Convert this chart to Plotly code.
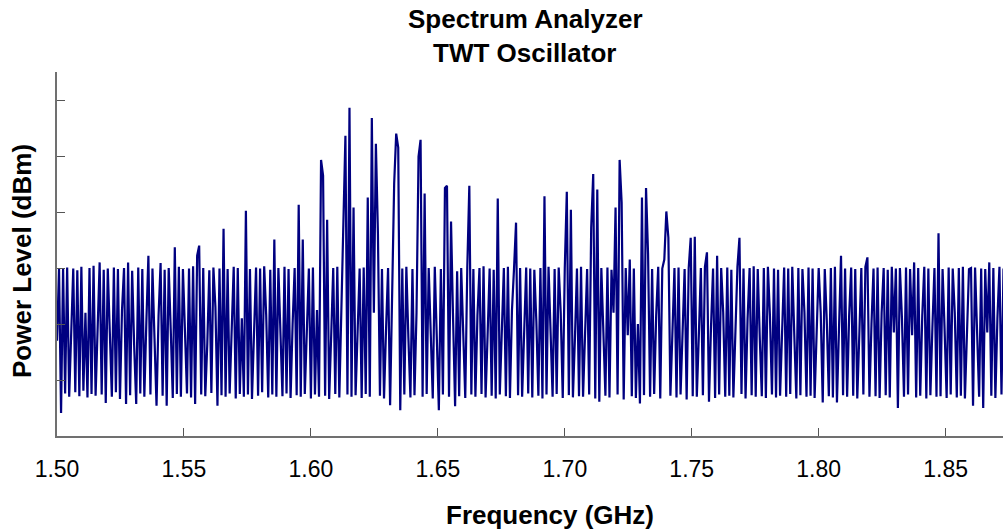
import plotly.graph_objects as go

# Sweep grid of the analyzer (GHz): start and step
f_start_ghz = 1.500
f_step_ghz = 0.0008

# Power level readings (dBm), one per sweep point
power_dbm = [
    -63.0, -50.2, -75.9, -50.0, -72.4, -49.9, -73.0, -60.5, -50.1, -72.2,
    -50.4, -72.9, -49.8, -71.9, -58.0, -73.1, -50.0, -72.5, -49.6, -72.8,
    -62.0, -49.0, -72.6, -50.3, -74.1, -50.1, -61.5, -73.0, -49.9, -72.2,
    -50.2, -73.4, -57.5, -50.0, -74.3, -49.0, -72.7, -50.5, -64.0, -74.3,
    -49.9, -72.4, -50.2, -73.0, -59.5, -47.8, -72.6, -50.1, -62.5, -74.6,
    -58.5, -49.1, -72.8, -50.3, -74.6, -50.0, -61.0, -73.2, -46.3, -72.5,
    -49.8, -73.0, -50.2, -60.0, -72.4, -50.1, -73.1, -49.7, -74.3, -47.8,
    -46.0, -72.6, -50.0, -72.9, -63.5, -50.4, -72.3, -49.9, -57.0, -74.6,
    -50.1, -72.7, -43.0, -73.0, -50.2, -72.4, -61.0, -49.8, -73.3, -50.0,
    -72.5, -59.0, -73.0, -39.8, -72.6, -50.2, -73.4, -62.0, -49.9, -72.8,
    -50.1, -72.2, -49.7, -58.5, -73.1, -50.3, -72.6, -44.9, -73.0, -50.0,
    -63.0, -72.9, -49.8, -72.4, -50.2, -73.2, -60.0, -50.0, -72.7, -38.7,
    -73.0, -44.9, -72.5, -61.5, -50.1, -73.3, -49.9, -72.6, -57.5, -73.0,
    -30.7, -33.5, -72.8, -41.4, -73.4, -62.0, -50.0, -72.5, -49.8, -73.1,
    -59.0, -44.6, -26.4, -72.6, -21.4, -73.0, -39.2, -72.7, -61.0, -50.1,
    -73.2, -49.9, -72.5, -37.4, -73.0, -23.2, -58.0, -27.8, -43.8, -72.8,
    -50.2, -73.3, -61.0, -50.0, -74.5, -57.0, -34.9, -26.0, -28.5, -75.4,
    -50.1, -72.6, -49.8, -62.5, -73.1, -50.2, -72.7, -58.0, -30.1, -27.1,
    -73.0, -36.7, -72.5, -50.0, -60.5, -73.3, -49.8, -62.0, -75.4, -50.2,
    -72.6, -35.7, -35.3, -73.0, -41.7, -59.0, -74.7, -50.6, -72.9, -50.0,
    -61.5, -73.2, -49.9, -35.3, -72.6, -50.2, -73.0, -58.5, -50.0, -72.5,
    -49.7, -73.1, -62.0, -50.1, -72.8, -50.3, -73.3, -37.6, -72.6, -60.0,
    -50.0, -72.9, -49.8, -73.2, -57.5, -50.2, -41.9, -72.7, -50.0, -73.0,
    -63.0, -49.9, -72.4, -50.1, -73.1, -50.3, -59.5, -72.8, -50.0, -73.3,
    -37.2, -72.6, -49.8, -61.0, -73.0, -50.2, -72.5, -49.9, -58.0, -73.2,
    -50.0, -36.4, -72.7, -39.6, -73.1, -62.5, -50.1, -72.9, -49.8, -73.0,
    -59.5, -50.2, -72.6, -42.8, -33.2, -73.3, -36.0, -73.9, -50.0, -61.0,
    -72.8, -49.9, -73.1, -50.3, -58.0, -39.2, -72.6, -30.7, -38.3, -73.5,
    -50.0, -62.0, -48.5, -72.9, -50.1, -73.2, -60.0, -74.2, -37.4, -72.7,
    -35.7, -47.4, -73.0, -50.2, -72.5, -58.5, -49.8, -73.3, -50.1, -48.5,
    -39.9, -44.6, -72.8, -61.5, -50.0, -73.1, -49.9, -72.6, -59.0, -50.2,
    -73.5, -50.1, -44.6, -72.9, -44.4, -73.0, -62.0, -50.0, -72.7, -49.8,
    -47.2, -73.9, -60.5, -50.1, -73.2, -47.8, -72.6, -50.0, -58.0, -73.0,
    -49.9, -72.8, -50.3, -73.1, -61.5, -49.8, -44.6, -72.5, -50.1, -73.3,
    -59.0, -50.0, -72.7, -49.7, -73.0, -50.2, -62.5, -72.9, -50.0, -73.2,
    -49.8, -58.5, -72.6, -50.1, -73.1, -50.3, -72.8, -60.5, -49.9, -73.0,
    -50.1, -72.5, -49.8, -62.0, -73.3, -50.0, -72.7, -50.2, -58.0, -73.0,
    -49.9, -72.8, -50.1, -73.2, -61.0, -50.0, -58.0, -74.0, -50.2, -59.5,
    -72.9, -50.0, -73.1, -49.8, -74.0, -61.5, -47.8, -72.7, -50.1, -73.0,
    -58.5, -49.9, -72.8, -50.2, -73.3, -62.0, -50.0, -72.6, -49.8, -48.1,
    -73.0, -60.0, -50.1, -72.9, -49.9, -73.2, -58.0, -50.0, -72.7, -50.3,
    -73.1, -49.8, -61.5, -50.1, -75.0, -50.0, -59.0, -73.0, -49.9, -72.6,
    -50.2, -62.0, -49.0, -73.1, -50.0, -72.8, -58.5, -49.8, -73.3, -50.1,
    -72.7, -60.5, -50.0, -73.0, -43.8, -72.9, -50.2, -61.0, -73.2, -49.9,
    -72.6, -50.1, -58.0, -73.1, -50.0, -72.8, -49.8, -73.3, -62.0, -50.2,
    -50.0, -74.6, -49.9, -60.0, -73.0, -50.1, -75.0, -50.2, -61.5, -49.0,
    -72.8, -50.0, -73.2, -59.0, -49.8, -72.6, -50.1, -73.0, -50.0,
]

freq_ghz = [round(f_start_ghz + i * f_step_ghz, 5) for i in range(len(power_dbm))]

x_tick_vals = [1.50, 1.55, 1.60, 1.65, 1.70, 1.75, 1.80, 1.85]
x_tick_text = ["1.50", "1.55", "1.60", "1.65", "1.70", "1.75", "1.80", "1.85"]
y_tick_vals = [-70, -60, -50, -40, -30, -20]

title_line1 = "Spectrum Analyzer"
title_line2 = "TWT Oscillator"
x_title = "Frequency (GHz)"
y_title = "Power Level (dBm)"

FONT = "Liberation Sans, Arial, sans-serif"

# plot area in pixels: left 57, top 72, right 1003, bottom 436
PL, PT, PW, PH = 57, 72, 946, 364


def px_x(x):
    return (x - PL) / PW


def px_y(y):
    return (PT + PH - y) / PH


fig = go.Figure()
fig.add_trace(go.Scatter(
    x=freq_ghz, y=power_dbm, mode="lines",
    line=dict(color="#000080", width=2.2),
    hoverinfo="x+y", showlegend=False,
))

fig.update_layout(
    width=1003, height=532,
    margin=dict(l=PL, r=0, t=PT, b=532 - PT - PH, autoexpand=False),
    paper_bgcolor="white", plot_bgcolor="white",
    font=dict(family=FONT, color="black"),
    xaxis=dict(
        range=[1.5, 1.8726], tickvals=x_tick_vals, ticktext=x_tick_text,
        ticks="inside", ticklen=8, tickwidth=1.3, tickcolor="#555555",
        showline=True, linecolor="#707070", linewidth=2,
        showgrid=False, zeroline=False, ticklabelstandoff=11,
        tickfont=dict(size=23, family=FONT, color="black"),
    ),
    yaxis=dict(
        range=[-80, -15], tickvals=y_tick_vals, showticklabels=False,
        ticks="inside", ticklen=8, tickwidth=1.3, tickcolor="#555555",
        showline=True, linecolor="#707070", linewidth=2,
        showgrid=False, zeroline=False,
    ),
    annotations=[
        dict(text="<b>" + title_line1 + "</b>",
             xref="paper", yref="paper", x=px_x(525), y=px_y(19),
             xanchor="center", yanchor="middle", showarrow=False,
             font=dict(size=26, family=FONT, color="black")),
        dict(text="<b>" + title_line2 + "</b>",
             xref="paper", yref="paper", x=px_x(524), y=px_y(53),
             xanchor="center", yanchor="middle", showarrow=False,
             font=dict(size=26, family=FONT, color="black")),
        dict(text="<b>" + x_title + "</b>",
             xref="paper", yref="paper", x=px_x(550), y=px_y(515),
             xanchor="center", yanchor="middle", showarrow=False,
             font=dict(size=26, family=FONT, color="black")),
        dict(text="<b>" + y_title + "</b>", textangle=-90,
             xref="paper", yref="paper", x=px_x(22), y=px_y(261),
             xanchor="center", yanchor="middle", showarrow=False,
             font=dict(size=26, family=FONT, color="black")),
    ],
)

fig.write_html("out.html", config={"displayModeBar": False},
               post_script="document.body.style.margin='0px';")
